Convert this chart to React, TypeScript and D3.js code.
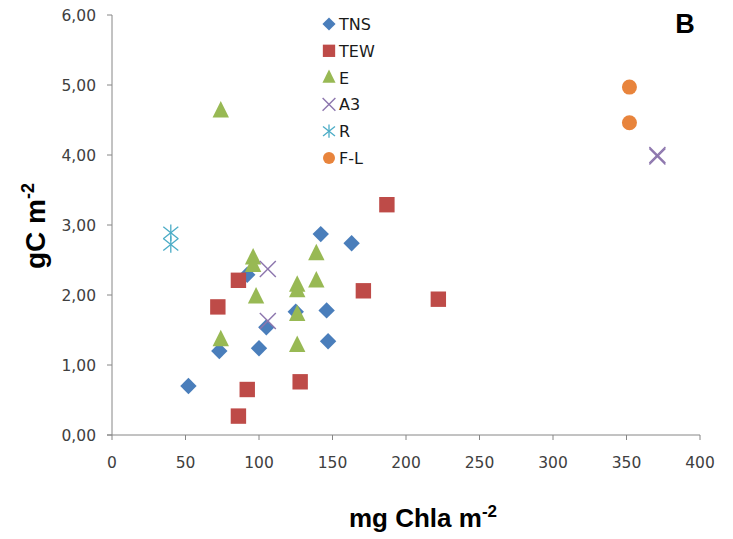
import React from "react";
import * as d3 from "d3";

const xTicks = [0, 50, 100, 150, 200, 250, 300, 350, 400];
const yTicks = [0, 1, 2, 3, 4, 5, 6];

const TNS: [number, number][] = [
  [52, 0.70], [73, 1.20], [100, 1.24], [105, 1.54], [125, 1.76], [146, 1.78],
  [147, 1.34], [142, 2.87], [163, 2.74], [92, 2.29],
];
const TEW: [number, number][] = [
  [86, 2.21], [72, 1.83], [171, 2.06], [92, 0.65], [128, 0.76], [86, 0.27],
  [187, 3.29], [222, 1.94],
];
const E: [number, number][] = [
  [74, 4.63], [96, 2.53], [96, 2.42], [98, 1.97], [139, 2.59], [139, 2.20],
  [126, 2.14], [126, 2.06], [126, 1.72], [126, 1.28], [74, 1.36],
];
const A3: [number, number][] = [[106, 2.37], [106, 1.63], [371, 4.0], [371, 3.98]];
const R: [number, number][] = [[40, 2.89], [40, 2.72]];
const FL: [number, number][] = [[352, 4.97], [352, 4.46]];

const seriesNames = ["TNS", "TEW", "E", "A3", "R", "F-L"];
const seriesData = [TNS, TEW, E, A3, R, FL];
const seriesColors = ["#4A7EBB", "#BE4B48", "#98B954", "#8C75AD", "#4BACC6", "#E8843C"];

function Marker({ kind, x, y, color, s = 1 }: { kind: number; x: number; y: number; color: string; s?: number }) {
  switch (kind) {
    case 0: {
      const h = 8.2 * s;
      return <path d={`M${x},${y - h}L${x + h},${y}L${x},${y + h}L${x - h},${y}Z`} fill={color} />;
    }
    case 1: {
      const h = 7.7 * s;
      return <rect x={x - h} y={y - h} width={2 * h} height={2 * h} fill={color} />;
    }
    case 2: {
      const w = 8.2 * s;
      return <path d={`M${x},${y - 10 * s}L${x + w},${y + 6.5 * s}L${x - w},${y + 6.5 * s}Z`} fill={color} />;
    }
    case 3: {
      const h = 8 * s;
      return (
        <g stroke={color} strokeWidth={1.4}>
          <line x1={x - h} y1={y - h} x2={x + h} y2={y + h} />
          <line x1={x - h} y1={y + h} x2={x + h} y2={y - h} />
        </g>
      );
    }
    case 4: {
      const h = 7.5 * s;
      return (
        <g stroke={color} strokeWidth={1.3}>
          <line x1={x - h} y1={y - h * 0.8} x2={x + h} y2={y + h * 0.8} />
          <line x1={x - h} y1={y + h * 0.8} x2={x + h} y2={y - h * 0.8} />
          <line x1={x} y1={y - h * 1.1} x2={x} y2={y + h * 1.1} />
        </g>
      );
    }
    default:
      return <circle cx={x} cy={y} r={7.5 * s} fill={color} />;
  }
}

export default function App() {
  const width = 733;
  const height = 539;
  const x = d3.scaleLinear().domain([0, 400]).range([112, 700]);
  const y = d3.scaleLinear().domain([0, 6]).range([435, 15]);
  const fmt = (v: number) => v.toFixed(2).replace(".", ",");
  const axisColor = "#868686";
  const tickFont = "'DejaVu Sans', Verdana, sans-serif";
  const titleFont = "'Liberation Sans', Arial, sans-serif";

  return (
    <svg
      width={width}
      height={height}
      style={{ position: "absolute", left: 0, top: 0, background: "#fff" }}
      fontFamily={tickFont}
    >
      {/* axes */}
      <line x1={x(0)} y1={y(0)} x2={x(0)} y2={y(6)} stroke={axisColor} />
      <line x1={x(0) - 5} y1={y(0)} x2={x(400)} y2={y(0)} stroke={axisColor} />
      {yTicks.map((t) => (
        <g key={"y" + t}>
          <line x1={x(0) - 5} x2={x(0)} y1={y(t)} y2={y(t)} stroke={axisColor} />
          <text x={96} y={y(t) + 5.5} textAnchor="end" fontSize={15.5} fill="#404040">
            {fmt(t)}
          </text>
        </g>
      ))}
      {xTicks.map((t) => (
        <g key={"x" + t}>
          <line x1={x(t)} x2={x(t)} y1={y(0)} y2={y(0) + 5} stroke={axisColor} />
          <text x={x(t)} y={468} textAnchor="middle" fontSize={15.5} fill="#404040">
            {t}
          </text>
        </g>
      ))}

      {/* data */}
      {seriesData.map((data, si) =>
        data.map((d, i) => (
          <Marker key={si + "-" + i} kind={si} x={x(d[0])} y={y(d[1])} color={seriesColors[si]} />
        ))
      )}

      {/* legend */}
      {seriesNames.map((n, i) => {
        const ly = 24 + i * 26.8;
        return (
          <g key={n}>
            <Marker kind={i} x={329} y={ly} color={seriesColors[i]} s={0.8} />
            <text x={339} y={ly + 6} fontSize={16} fill="#1a1a1a">
              {n}
            </text>
          </g>
        );
      })}

      {/* titles */}
      <text x={423} y={527} textAnchor="middle" fontSize={26} fontWeight="bold" fill="#000" fontFamily={titleFont}>
        mg Chla m
        <tspan fontSize={17} dy={-10}>-2</tspan>
      </text>
      <text
        transform={`translate(45,226) rotate(-90)`}
        textAnchor="middle"
        fontSize={28}
        fontWeight="bold"
        fill="#000"
        fontFamily={titleFont}
      >
        gC m
        <tspan fontSize={18} dy={-11}>-2</tspan>
      </text>
      <text x={685} y={33} textAnchor="middle" fontSize={27} fontWeight="bold" fill="#000" fontFamily={titleFont}>
        B
      </text>
    </svg>
  );
}
